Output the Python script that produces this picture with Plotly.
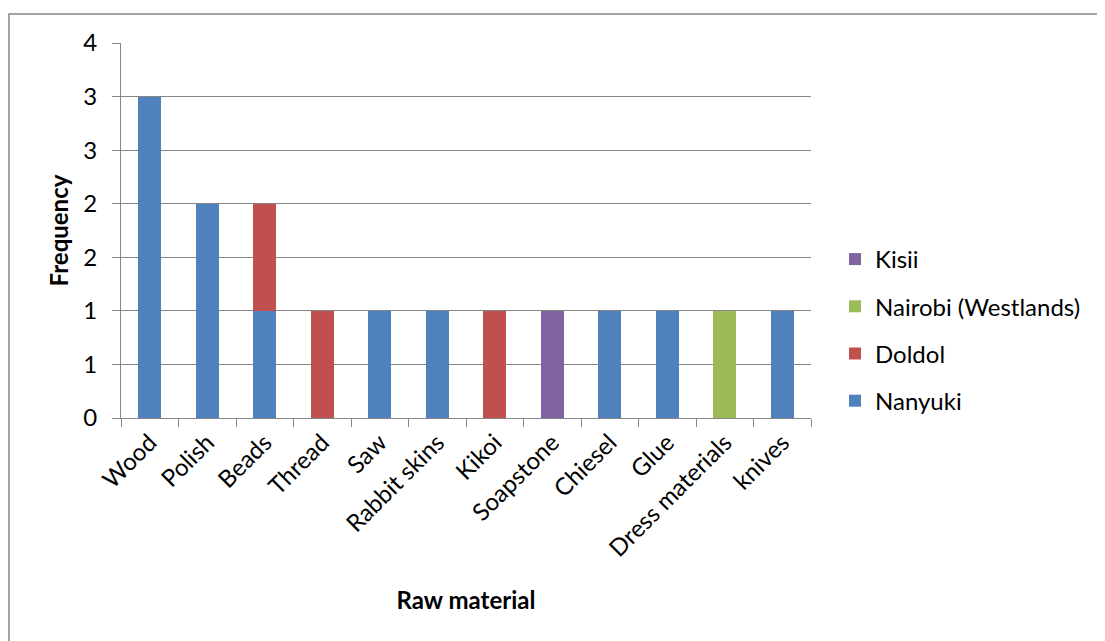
import plotly.graph_objects as go

categories = ["Wood", "Polish", "Beads", "Thread", "Saw", "Rabbit skins", "Kikoi",
              "Soapstone", "Chiesel", "Glue", "Dress materials", "knives"]
nanyuki = [3, 2, 1, None, 1, 1, None, None, 1, 1, None, 1]
doldol = [None, None, 1, 1, None, None, 1, None, None, None, None, None]
nairobi = [None, None, None, None, None, None, None, None, None, None, 1, None]
kisii = [None, None, None, None, None, None, None, 1, None, None, None, None]

y_tickvals = [0, 0.5, 1, 1.5, 2, 2.5, 3, 3.5]
y_ticktext = ["0", "1", "1", "2", "2", "3", "3", "4"]

series = [
    ("Nanyuki", nanyuki, "#4F81BD", 4),
    ("Doldol", doldol, "#C0504D", 3),
    ("Nairobi (Westlands)", nairobi, "#9BBB59", 2),
    ("Kisii", kisii, "#8064A2", 1),
]

FONT = "Lato, 'Open Sans', sans-serif"
GRID = "#868686"
FS = 24

fig = go.Figure()
for name, vals, color, rank in series:
    fig.add_trace(go.Bar(
        x=categories, y=vals, name=name, legendgroup=name, legendrank=rank,
        marker=dict(color=color, line=dict(width=0)),
    ))

OFF = 8  # page body margin
W, H = 1105, 641
# desired page-pixel plot edges
PL, PR, PT, PB = 121, 811, 43, 418
L, T = PL - OFF, PT - OFF
R = W - (PR - OFF)
B = H - (PB - OFF)
pw, ph = PR - PL, PB - PT

def px_x(p):
    return (p - PL) / pw

def px_y(p):
    return (PB - p) / ph

fig.update_layout(
    width=W, height=H,
    barmode="stack", bargap=0.6,
    margin=dict(l=L, r=R, t=T, b=B, autoexpand=False),
    paper_bgcolor="white", plot_bgcolor="white",
    font=dict(family=FONT, size=FS, color="black"),
    showlegend=True,
    legend=dict(
        x=px_x(835), y=px_y(237), xanchor="left", yanchor="top",
        traceorder="grouped", tracegroupgap=13,
        font=dict(family=FONT, size=FS, color="black"),
        bgcolor="rgba(0,0,0,0)",
    ),
    xaxis=dict(
        showline=True, linecolor=GRID, linewidth=1,
        ticks="outside", ticklen=8, tickcolor=GRID, tickson="boundaries",
        tickangle=-45, tickfont=dict(size=FS),
        showgrid=False,
        title=dict(text="<b>Raw material</b>", font=dict(size=FS), standoff=31),
    ),
    yaxis=dict(
        range=[0, 3.5], tickvals=y_tickvals, ticktext=y_ticktext,
        showline=True, linecolor=GRID, linewidth=1,
        ticks="outside", ticklen=8, tickcolor=GRID,
        showgrid=True, gridcolor=GRID, gridwidth=1,
        tickfont=dict(size=FS), ticklabelstandoff=10,
        zeroline=False,
        title=dict(text="<b>Frequency</b>", font=dict(size=FS), standoff=7),
    ),
    shapes=[dict(
        type="rect", xref="paper", yref="paper",
        x0=px_x(9), x1=px_x(1120), y0=px_y(14), y1=px_y(660),
        line=dict(color=GRID, width=1.5), layer="below",
    )],
)

fig.write_html("out.html")
